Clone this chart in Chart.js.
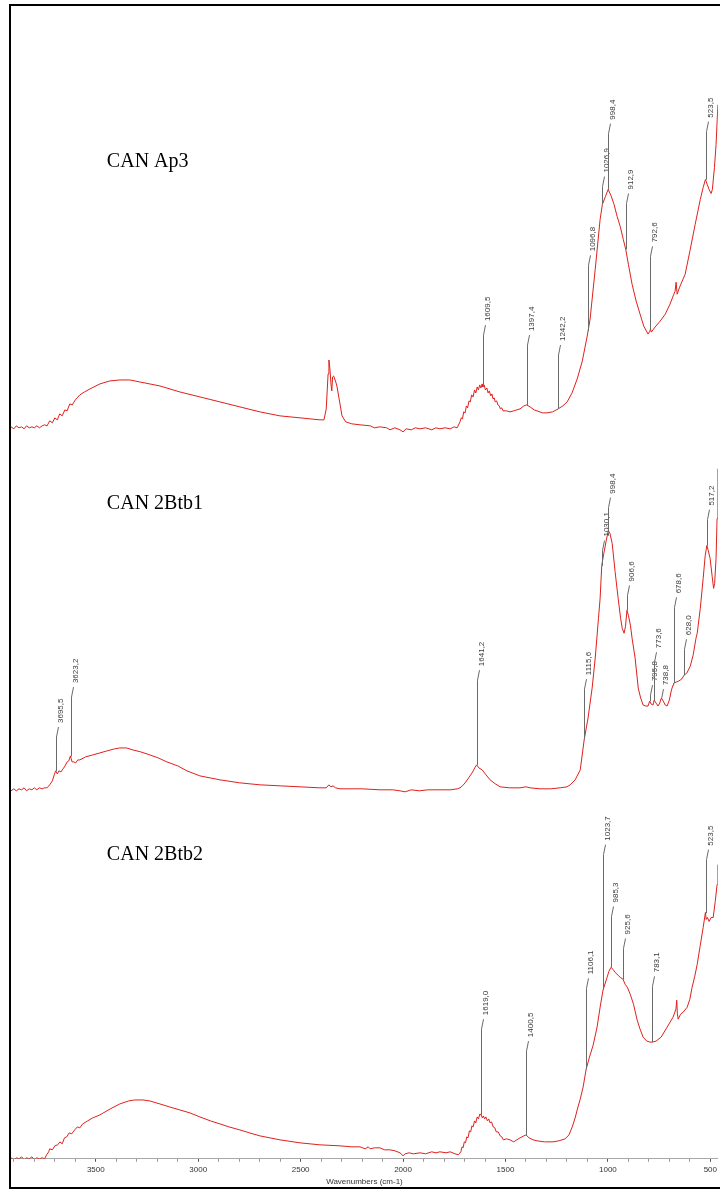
<!DOCTYPE html>
<html>
<head>
<meta charset="utf-8">
<script src="https://cdn.jsdelivr.net/npm/chart.js@4.4.0/dist/chart.umd.min.js"></script>
<style>
  html, body { margin: 0; padding: 0; background: #fff; }
  #wrap { width: 720px; height: 1191px; }
</style>
</head>
<body>
<div id="wrap"><canvas id="ftir" width="720" height="1191"></canvas></div>
<script>
// FTIR spectra, three samples stacked, wavenumber (cm-1) vs absorbance (arbitrary units)

const sampleNames = ['CAN Ap3', 'CAN 2Btb1', 'CAN 2Btb2'];

// [wavenumber, absorbance]
const ap3 = [
  [3914,0.02],[3900,0.00],[3888,0.03],[3875,0.01],[3862,0.02],[3850,0.00],[3838,0.03],[3825,0.01],
  [3812,0.02],[3800,0.01],[3788,0.03],[3775,0.01],[3762,0.03],[3750,0.04],[3738,0.03],[3725,0.08],
  [3712,0.06],[3700,0.11],[3688,0.09],[3676,0.15],[3664,0.13],[3651,0.19],[3640,0.18],[3627,0.25],
  [3615,0.24],[3600,0.29],[3578,0.34],[3555,0.37],[3529,0.40],[3480,0.45],[3432,0.48],[3383,0.49],
  [3334,0.49],[3285,0.47],[3187,0.43],[3090,0.37],[2992,0.32],[2894,0.27],[2797,0.22],[2699,0.17],
  [2601,0.13],[2503,0.11],[2406,0.09],[2386,0.09],[2375,0.20],[2366,0.55],[2362,0.69],[2357,0.60],
  [2352,0.45],[2348,0.38],[2344,0.52],[2339,0.53],[2330,0.48],[2323,0.43],[2308,0.25],[2298,0.13],
  [2280,0.07],[2250,0.05],[2210,0.04],[2160,0.03],[2140,0.01],[2113,0.02],[2080,0.01],[2064,-0.01],
  [2040,0.01],[2015,-0.01],[2000,-0.03],[1985,0.00],[1960,-0.01],[1940,0.01],[1917,0.00],[1890,0.01],
  [1860,-0.01],[1840,0.01],[1820,0.00],[1795,0.01],[1770,0.00],[1750,0.02],[1736,0.01],[1722,0.07],
  [1716,0.11],[1710,0.10],[1704,0.17],[1697,0.16],[1691,0.23],[1685,0.21],[1678,0.28],[1672,0.27],
  [1665,0.34],[1658,0.32],[1651,0.39],[1645,0.36],[1638,0.42],[1632,0.39],[1626,0.44],[1620,0.41],
  [1614,0.45],[1610,0.42],[1604,0.44],[1598,0.39],[1591,0.41],[1585,0.36],[1579,0.38],[1572,0.33],
  [1566,0.35],[1561,0.30],[1555,0.31],[1550,0.27],[1543,0.28],[1537,0.24],[1530,0.23],[1525,0.20],
  [1518,0.21],[1512,0.18],[1495,0.18],[1478,0.17],[1460,0.18],[1445,0.19],[1429,0.20],[1410,0.23],
  [1397,0.24],[1380,0.22],[1360,0.19],[1346,0.18],[1320,0.16],[1297,0.16],[1270,0.17],[1243,0.20],
  [1220,0.23],[1199,0.27],[1175,0.36],[1150,0.50],[1125,0.68],[1101,0.93],[1087,1.10],[1062,1.60],
  [1038,2.10],[1027,2.25],[1012,2.33],[999,2.40],[985,2.34],[970,2.25],[955,2.13],[940,2.03],
  [925,1.90],[913,1.80],[900,1.65],[882,1.45],[862,1.28],[843,1.15],[825,1.03],[804,0.95],
  [795,0.98],[792,1.00],[788,0.97],[770,1.02],[745,1.08],[720,1.15],[697,1.25],[680,1.34],
  [672,1.38],[667,1.47],[662,1.35],[650,1.42],[623,1.55],[598,1.80],[574,2.05],[549,2.30],
  [535,2.42],[524,2.50],[515,2.45],[506,2.40],[496,2.36],[490,2.40],[480,2.62],[472,2.85],
  [463,3.25]
];

const btb1 = [
  [3914,0.02],[3900,0.04],[3888,0.02],[3875,0.04],[3862,0.03],[3850,0.05],[3838,0.02],[3825,0.04],
  [3812,0.03],[3800,0.05],[3788,0.03],[3775,0.05],[3762,0.04],[3750,0.05],[3738,0.05],[3725,0.08],
  [3712,0.12],[3703,0.18],[3696,0.22],[3688,0.19],[3680,0.22],[3670,0.21],[3660,0.24],[3650,0.27],
  [3640,0.31],[3632,0.32],[3624,0.37],[3616,0.31],[3608,0.31],[3598,0.30],[3588,0.33],[3578,0.33],
  [3550,0.36],[3515,0.38],[3480,0.40],[3446,0.42],[3410,0.44],[3383,0.45],[3350,0.45],[3319,0.43],
  [3280,0.41],[3236,0.38],[3195,0.35],[3153,0.31],[3100,0.27],[3055,0.22],[2992,0.17],[2894,0.13],
  [2797,0.10],[2699,0.08],[2600,0.07],[2503,0.06],[2406,0.05],[2375,0.05],[2362,0.08],[2352,0.06],
  [2342,0.07],[2330,0.05],[2308,0.04],[2200,0.04],[2113,0.03],[2050,0.03],[2015,0.02],[1990,0.01],
  [1960,0.03],[1920,0.02],[1880,0.03],[1820,0.03],[1770,0.03],[1735,0.04],[1722,0.05],[1710,0.07],
  [1697,0.10],[1680,0.15],[1663,0.20],[1650,0.25],[1641,0.28],[1630,0.25],[1614,0.23],[1595,0.18],
  [1575,0.13],[1550,0.09],[1526,0.06],[1480,0.05],[1429,0.05],[1400,0.06],[1380,0.05],[1331,0.04],
  [1280,0.04],[1233,0.05],[1200,0.06],[1184,0.08],[1160,0.13],[1135,0.23],[1116,0.53],[1097,0.75],
  [1077,1.05],[1062,1.35],[1046,1.75],[1038,1.95],[1030,2.28],[1020,2.40],[1009,2.52],[998,2.63],
  [990,2.60],[979,2.50],[965,2.22],[950,1.95],[938,1.75],[930,1.65],[921,1.60],[914,1.67],
  [907,1.83],[900,1.78],[890,1.68],[882,1.55],[867,1.35],[852,1.05],[840,0.95],[828,0.88],
  [815,0.87],[804,0.87],[796,0.92],[789,0.89],[780,0.88],[774,0.93],[765,0.90],[755,0.87],
  [747,0.90],[739,0.95],[730,0.92],[720,0.88],[711,0.87],[700,0.93],[690,1.03],[682,1.08],
  [679,1.10],[667,1.11],[655,1.12],[640,1.14],[628,1.18],[615,1.20],[598,1.27],[584,1.38],
  [570,1.55],[564,1.60],[549,1.85],[535,2.15],[525,2.38],[517,2.48],[510,2.43],[501,2.35],
  [491,2.17],[484,2.05],[479,2.10],[472,2.35],[467,2.75],[463,3.25]
];

const btb2 = [
  [3914,0.01],[3900,-0.01],[3888,0.01],[3875,0.00],[3862,0.02],[3850,-0.01],[3838,0.01],[3825,0.00],
  [3812,0.02],[3800,-0.01],[3788,0.01],[3775,0.00],[3762,0.01],[3750,0.00],[3740,0.04],[3730,0.07],
  [3725,0.10],[3712,0.09],[3700,0.13],[3686,0.14],[3675,0.17],[3664,0.15],[3653,0.21],[3642,0.22],
  [3630,0.26],[3618,0.25],[3603,0.29],[3590,0.32],[3578,0.31],[3564,0.35],[3540,0.38],[3515,0.41],
  [3480,0.44],[3430,0.50],[3383,0.55],[3340,0.58],[3310,0.59],[3270,0.59],[3236,0.58],[3187,0.55],
  [3140,0.52],[3090,0.49],[3040,0.46],[2992,0.42],[2940,0.38],[2894,0.35],[2850,0.32],[2797,0.29],
  [2750,0.26],[2699,0.23],[2650,0.21],[2601,0.19],[2503,0.16],[2406,0.14],[2308,0.13],[2250,0.12],
  [2210,0.12],[2185,0.10],[2170,0.12],[2161,0.10],[2140,0.11],[2113,0.11],[2090,0.09],[2064,0.09],
  [2040,0.08],[2015,0.06],[2000,0.03],[1990,0.05],[1970,0.06],[1950,0.05],[1917,0.06],[1890,0.05],
  [1860,0.07],[1840,0.06],[1820,0.07],[1790,0.06],[1770,0.07],[1746,0.05],[1730,0.04],[1718,0.07],
  [1712,0.12],[1707,0.11],[1701,0.17],[1695,0.16],[1689,0.22],[1683,0.21],[1676,0.28],[1670,0.27],
  [1664,0.33],[1658,0.32],[1651,0.38],[1645,0.36],[1638,0.42],[1632,0.40],[1625,0.45],[1619,0.44],
  [1613,0.41],[1608,0.43],[1602,0.40],[1596,0.42],[1588,0.38],[1582,0.40],[1575,0.36],[1568,0.37],
  [1560,0.32],[1552,0.31],[1545,0.27],[1536,0.27],[1526,0.23],[1518,0.22],[1510,0.19],[1495,0.20],
  [1478,0.19],[1460,0.17],[1445,0.19],[1429,0.21],[1410,0.23],[1400,0.24],[1385,0.21],[1365,0.19],
  [1346,0.18],[1310,0.17],[1268,0.17],[1240,0.18],[1209,0.20],[1190,0.24],[1174,0.32],[1160,0.41],
  [1150,0.49],[1135,0.60],[1121,0.72],[1106,0.90],[1090,1.02],[1072,1.14],[1053,1.32],[1038,1.52],
  [1024,1.69],[1004,1.82],[995,1.88],[985,1.92],[975,1.90],[965,1.87],[950,1.84],[940,1.82],
  [926,1.80],[916,1.75],[905,1.72],[891,1.65],[875,1.55],[857,1.39],[843,1.30],[828,1.22],
  [810,1.18],[794,1.17],[783,1.17],[765,1.18],[740,1.22],[711,1.32],[682,1.42],[668,1.50],
  [664,1.59],[661,1.46],[657,1.40],[645,1.45],[633,1.47],[613,1.52],[600,1.60],[589,1.72],
  [576,1.83],[564,1.95],[550,2.13],[535,2.32],[524,2.47],[520,2.40],[514,2.42],[506,2.38],
  [496,2.42],[486,2.42],[476,2.58],[467,2.75],[463,2.95]
];

// labelled peaks (cm-1)
const ap3Peaks  = [1609.5, 1397.4, 1242.2, 1096.8, 1026.9, 998.4, 912.9, 792.6, 523.5];
const btb1Peaks = [3695.5, 3623.2, 1641.2, 1115.6, 1030.1, 998.4, 906.6, 795.8, 773.6, 738.8, 678.6, 628.0, 517.2];
const btb2Peaks = [1619.0, 1400.5, 1106.1, 1023.7, 985.3, 925.6, 783.1, 523.5];

// ---- layout only below here ----
const spectra = [ap3, btb1, btb2];
const peaks   = [ap3Peaks, btb1Peaks, btb2Peaks];
const offsets = [7.32, 3.67, 0];            // stacking offset of each trace
const labelTops = [                           // where each peak label text starts (above its trace)
  [1.08, 0.98, 0.88, 1.78, 2.57, 3.10, 2.40, 1.87, 3.12],
  [0.70, 1.10, 1.27, 1.18, 2.57, 3.00, 2.12, 1.12, 1.45, 1.08, 2.00, 1.58, 2.88],
  [1.44, 1.22, 1.85, 3.19, 2.57, 2.25, 1.87, 3.14]
];
const nameX = 3446;
const nameY = [2.63, 2.85, 3.00];

const lineColor  = '#e0201c';
const markColor  = '#6a6a6a';
const labelColor = '#3a3a3a';
const sansFont   = "'Liberation Sans', Arial, sans-serif";
const serifFont  = "'Liberation Serif', 'Times New Roman', serif";

// linear look-up of a trace at a wavenumber (for the foot of each peak marker)
function valueAt(trace, w) {
  for (let i = 0; i < trace.length - 1; i++) {
    const [w0, a0] = trace[i], [w1, a1] = trace[i + 1];
    if (w <= w0 && w >= w1) return a0 + (a1 - a0) * (w0 - w) / (w0 - w1);
  }
  return 0;
}
const fmt = v => v.toFixed(1).replace('.', ',');

const annotate = {
  id: 'annotate',
  afterDatasetsDraw(chart) {
    const { ctx, scales: { x, y } } = chart;
    ctx.save();

    // peak markers: vertical stem, small kink, rotated value
    ctx.lineWidth = 1;
    ctx.strokeStyle = markColor;
    ctx.fillStyle = labelColor;
    ctx.font = '8px ' + sansFont;
    ctx.textBaseline = 'middle';
    ctx.textAlign = 'left';
    spectra.forEach((trace, i) => {
      peaks[i].forEach((p, j) => {
        const px = Math.round(x.getPixelForValue(p)) + 0.5;
        const yFoot = y.getPixelForValue(valueAt(trace, p) + offsets[i]);
        const yText = y.getPixelForValue(labelTops[i][j] + offsets[i]);
        ctx.beginPath();
        ctx.moveTo(px, yFoot);
        ctx.lineTo(px, yText + 14);
        ctx.lineTo(px + 2, yText + 4);
        ctx.stroke();
        ctx.save();
        ctx.translate(px + 4.5, yText);
        ctx.rotate(-Math.PI / 2);
        ctx.fillText(fmt(p), 0, 0);
        ctx.restore();
      });
    });

    // sample names
    ctx.fillStyle = '#000';
    ctx.font = '20px ' + serifFont;
    ctx.textBaseline = 'alphabetic';
    sampleNames.forEach((name, i) => {
      ctx.fillText(name, x.getPixelForValue(nameX), y.getPixelForValue(nameY[i] + offsets[i]));
    });
    ctx.restore();
  },
  afterDraw(chart) {
    // outer frame of the screenshot
    const { ctx } = chart;
    ctx.save();
    ctx.strokeStyle = '#000';
    ctx.lineWidth = 2;
    ctx.strokeRect(10, 5, 716, 1183);
    ctx.restore();
  }
};

new Chart(document.getElementById('ftir'), {
  type: 'line',
  data: {
    datasets: spectra.map((trace, i) => ({
      label: sampleNames[i],
      data: trace.map(([w, a]) => ({ x: w, y: a + offsets[i] })),
      borderColor: lineColor,
      borderWidth: 1,
      pointRadius: 0,
      tension: 0,
      fill: false
    }))
  },
  options: {
    responsive: false,
    animation: false,
    layout: { padding: { left: 11, right: 0, top: 5, bottom: 4 } },
    plugins: { legend: { display: false }, tooltip: { enabled: false } },
    scales: {
      x: {
        type: 'linear',
        reverse: true,
        min: 463,
        max: 3914,
        grid: {
          drawOnChartArea: false,
          tickLength: 3,
          tickColor: c => (c.tick && c.tick.value % 500 === 0) ? '#555' : '#9a9a9a'
        },
        border: { color: '#a8a8a8', width: 1 },
        ticks: {
          stepSize: 100,
          autoSkip: false,
          maxRotation: 0,
          includeBounds: false,
          padding: 3,
          color: '#333',
          font: { size: 8, family: sansFont },
          callback: v => (v % 500 === 0 ? String(v) : '')
        },
        title: {
          display: true,
          text: 'Wavenumbers (cm-1)',
          color: '#333',
          font: { size: 8, family: sansFont },
          padding: { top: 0, bottom: 0 }
        }
      },
      y: { display: false, min: 0, max: 11.57 }
    }
  },
  plugins: [annotate]
});
</script>
</body>
</html>
